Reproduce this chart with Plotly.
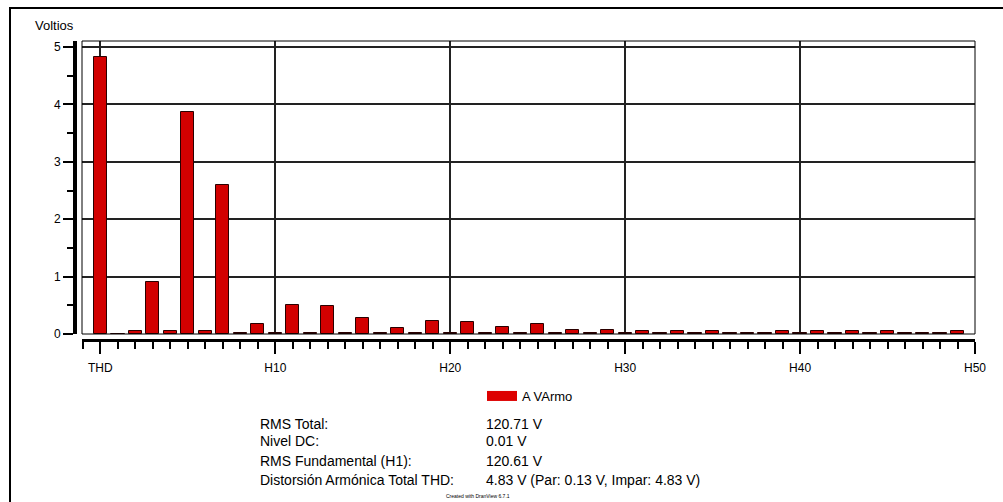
import plotly.graph_objects as go

# ---------------- data ----------------
harmonic_labels = ["THD"] + [f"H{i}" for i in range(1, 50)]
harmonic_values = [
    4.83, 0.00, 0.05, 0.91, 0.05, 3.87, 0.05, 2.59, 0.01, 0.18,
    0.01, 0.51, 0.01, 0.49, 0.01, 0.28, 0.01, 0.10, 0.01, 0.23,
    0.01, 0.21, 0.01, 0.13, 0.01, 0.17, 0.01, 0.07, 0.01, 0.07,
    0.01, 0.05, 0.01, 0.05, 0.01, 0.05, 0.01, 0.01, 0.01, 0.05,
    0.01, 0.05, 0.01, 0.05, 0.01, 0.05, 0.01, 0.01, 0.01, 0.05,
]
x_tick_positions = [0, 10, 20, 30, 40, 50]
x_tick_labels = ["THD", "H10", "H20", "H30", "H40", "H50"]
series_name = "A VArmo"

stat_labels = ["RMS Total:", "Nivel DC:", "RMS Fundamental (H1):", "Distorsión Armónica Total THD:"]
stat_values = ["120.71 V", "0.01 V", "120.61 V", "4.83 V (Par: 0.13 V, Impar: 4.83 V)"]
footer_text = "Created with DranView 6.7.1"
y_title = "Voltios"

# ---------------- layout geometry ----------------
W, H = 1003, 502
ML, MR, MT, MB = 75, 28, 41, 162
PW, PH = W - ML - MR, H - MT - MB


def px(xp):
    return (xp - ML) / PW


def py(yp):
    return (H - MB - yp) / PH


FONT = "Arial, Liberation Sans, sans-serif"
x_pos = list(range(len(harmonic_labels)))

fig = go.Figure()
fig.add_trace(go.Bar(
    x=x_pos, y=harmonic_values, name=series_name, width=0.76,
    marker=dict(color="#d20000", line=dict(color="#2a0000", width=1)),
    customdata=harmonic_labels,
    hovertemplate="%{customdata}: %{y:.2f} V<extra></extra>",
    showlegend=False,
))
# legend entry (wide red swatch like the original report)
fig.add_trace(go.Scatter(
    x=[None], y=[None], mode="lines", name=series_name,
    line=dict(color="#dd0000", width=10), showlegend=True, hoverinfo="skip",
))

fig.update_layout(
    width=W, height=H,
    margin=dict(l=ML, r=MR, t=MT, b=MB, pad=0),
    paper_bgcolor="white", plot_bgcolor="white",
    font=dict(family=FONT, size=12, color="black"),
    bargap=0,
    showlegend=True,
    legend=dict(orientation="h", x=px(482), y=py(381), xanchor="left", yanchor="top",
                font=dict(family=FONT, size=13, color="black"), bgcolor="rgba(0,0,0,0)"),
    xaxis=dict(
        domain=[px(82), 1], anchor="free", position=0,
        range=[-1.05, 50.0],
        tickmode="array", tickvals=x_tick_positions, ticktext=x_tick_labels,
        ticks="outside", ticklen=12, tickwidth=1.5, tickcolor="black",
        ticklabelstandoff=4,
        minor=dict(tickmode="linear", tick0=0, dtick=1, ticks="outside", ticklen=7,
                   tickwidth=1.5, tickcolor="black", showgrid=False),
        showline=True, linecolor="black", linewidth=3,
        showgrid=True, gridcolor="#222222", gridwidth=1.5,
        zeroline=False,
        tickfont=dict(family=FONT, size=12, color="black"),
    ),
    yaxis=dict(
        domain=[py(334), 1], anchor="free", position=0,
        range=[0, 5.105],
        tickmode="linear", tick0=0, dtick=1,
        ticks="outside", ticklen=10, tickwidth=1.5, tickcolor="black",
        minor=dict(tickmode="linear", tick0=0, dtick=0.5, ticks="outside", ticklen=6,
                   tickwidth=1.5, tickcolor="black", showgrid=False),
        showline=True, linecolor="black", linewidth=4,
        showgrid=True, gridcolor="#222222", gridwidth=1.5,
        zeroline=False,
        tickfont=dict(family=FONT, size=12, color="black"),
    ),
)

# plot-area frame and outer frame
fig.add_shape(type="rect", xref="x domain", yref="y domain", x0=0, x1=1, y0=0, y1=1,
              line=dict(color="black", width=1), layer="above")
fig.add_shape(type="rect", xref="paper", yref="paper",
              x0=px(10), x1=px(1010), y0=py(510), y1=py(8),
              line=dict(color="black", width=2))

# texts
fig.add_annotation(text=y_title, xref="paper", yref="paper", x=px(33), y=py(25),
                   xanchor="left", yanchor="middle", showarrow=False,
                   font=dict(family=FONT, size=13, color="black"))
row_y = [424, 441, 461, 480]
for lab, val, yy in zip(stat_labels, stat_values, row_y):
    fig.add_annotation(text=lab, xref="paper", yref="paper", x=px(258), y=py(yy),
                       xanchor="left", yanchor="middle", showarrow=False,
                       font=dict(family=FONT, size=14, color="black"))
    fig.add_annotation(text=val, xref="paper", yref="paper", x=px(484), y=py(yy),
                       xanchor="left", yanchor="middle", showarrow=False,
                       font=dict(family=FONT, size=14, color="black"))
fig.add_annotation(text=footer_text, xref="paper", yref="paper", x=px(478), y=py(496),
                   xanchor="center", yanchor="middle", showarrow=False,
                   font=dict(family=FONT, size=5, color="black"))

fig.write_html("out.html")
